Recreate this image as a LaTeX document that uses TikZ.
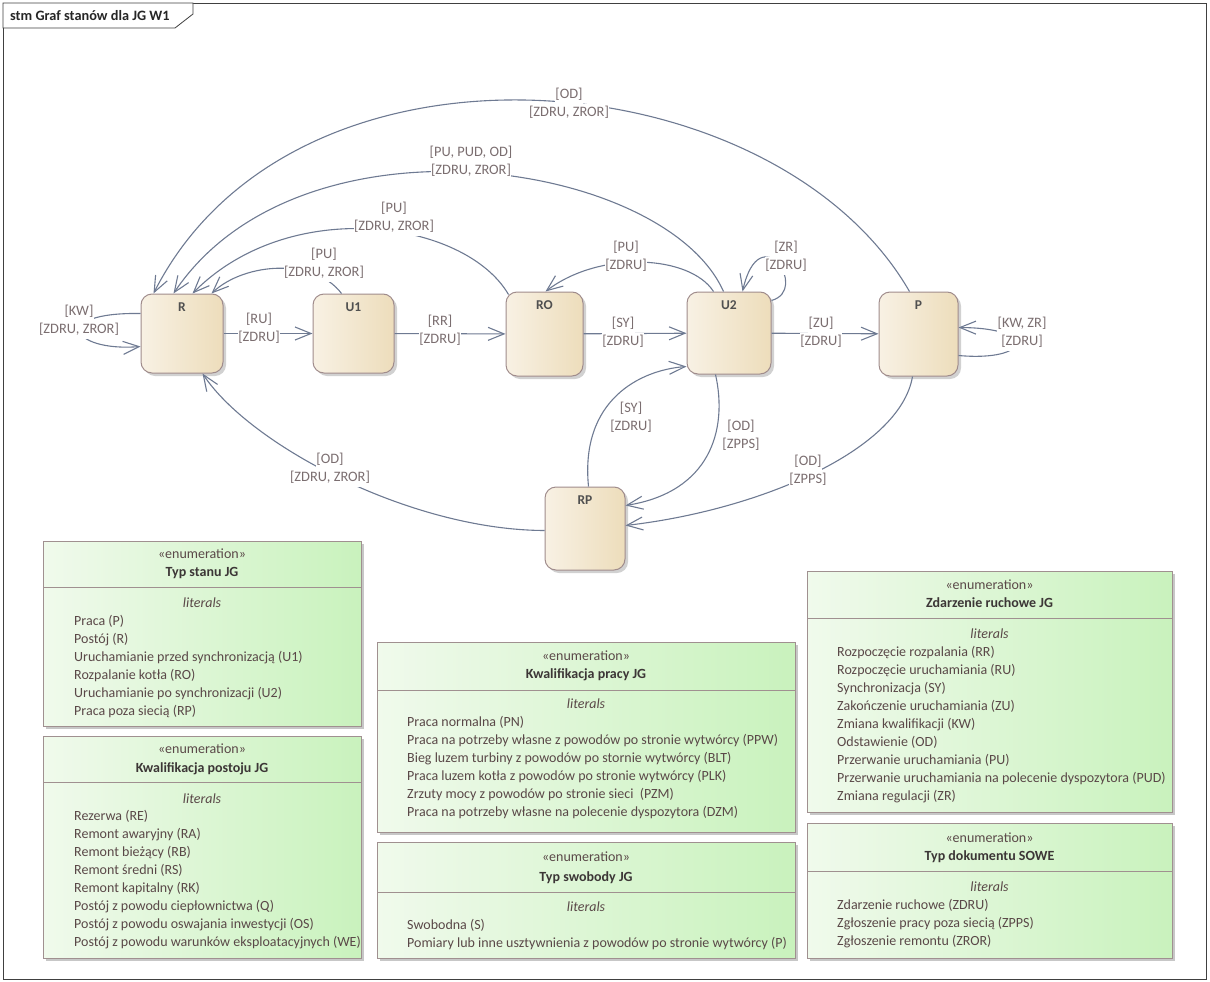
\documentclass[tikz,border=0pt]{standalone}
\usepackage{fontspec}
\setmainfont{Carlito}
\usetikzlibrary{arrows.meta,shadows,calc}
\definecolor{stateL}{HTML}{F8F1E4}
\definecolor{stateR}{HTML}{EDDDBB}
\definecolor{stateborder}{HTML}{A08C8C}
\definecolor{enumL}{HTML}{F0FAEC}
\definecolor{enumR}{HTML}{C9F2BD}
\definecolor{enumborder}{HTML}{A09090}
\definecolor{conncol}{HTML}{6E7A92}
\definecolor{lblcol}{HTML}{7B6E70}
\definecolor{itemcol}{HTML}{5A4848}
\definecolor{titlecol}{HTML}{3C3636}
\definecolor{statetext}{HTML}{505050}
\newcommand\lbfont{\fontsize{14.4}{18}\selectfont}
\newcommand\txfont{\fontsize{14}{16}\selectfont}
\newcommand\lb[1]{{\setlength\fboxsep{0.5pt}\colorbox{white}{\rule[-5pt]{0pt}{17pt}#1}}}
\tikzset{
  statebox/.style={draw=stateborder, line width=1pt, rounded corners=11pt,
    left color=stateL, right color=stateR, inner sep=0,
    drop shadow={shadow xshift=3pt, shadow yshift=-3pt, fill=black, opacity=0.18}},
  statename/.style={font=\bfseries\fontsize{13.5}{15}\selectfont, text=statetext, inner sep=0, anchor=north},
  conn/.style={draw=conncol, line width=1.1pt, -{Straight Barb[length=16pt,width=13pt,line width=1.1pt]}},
  lbl/.style={font=\lbfont, text=lblcol, align=center, inner sep=0},
  enumbox/.style={draw=enumborder, line width=1pt, left color=enumL, right color=enumR,
    drop shadow={shadow xshift=3pt, shadow yshift=-3pt, fill=black, opacity=0.22}},
  enumline/.style={draw=enumborder, line width=1pt},
  stereo/.style={font=\txfont, text=itemcol, anchor=base, inner sep=0},
  etitle/.style={font=\bfseries\txfont, text=titlecol, anchor=base, inner sep=0},
  elit/.style={font=\itshape\txfont, text=itemcol, anchor=base, inner sep=0},
  eitem/.style={font=\txfont, text=itemcol, anchor=base west, inner sep=0},
  frameline/.style={draw=black!75, line width=0.8pt}
}
\begin{document}
\begin{tikzpicture}[x=1pt,y=-1pt]
\useasboundingbox (0,0) rectangle (1210,982);
% frame
\draw[frameline] (3,3) rectangle (1206,979);
\draw[frameline, fill=white] (3,3) -- (193,3) -- (193,14) -- (175,28) -- (3,28) -- cycle;
\node[anchor=base west, font=\bfseries\fontsize{14.3}{16}\selectfont, text=black!85, inner sep=0] (ftitle) at (10,21) {stm Graf stanów dla JG W1};

% states
\node[statebox, minimum width=82pt, minimum height=79pt] (R) at (182,333.5) {};
\node[statebox, minimum width=81pt, minimum height=79pt] (U1) at (353.5,333.5) {};
\node[statebox, minimum width=77pt, minimum height=84pt] (RO) at (544.5,334) {};
\node[statebox, minimum width=84pt, minimum height=82pt] (U2) at (729,333) {};
\node[statebox, minimum width=79pt, minimum height=84pt] (P) at (918.5,334) {};
\node[statebox, minimum width=80pt, minimum height=83pt] (RP) at (585,528.5) {};
\node[statename] (Rn) at ($(R.north)+(0,9)$) {R};
\node[statename] (U1n) at ($(U1.north)+(0,9)$) {U1};
\node[statename] (ROn) at ($(RO.north)+(0,9)$) {RO};
\node[statename] (U2n) at ($(U2.north)+(0,9)$) {U2};
\node[statename] (Pn) at ($(P.north)+(0,9)$) {P};
\node[statename] (RPn) at ($(RP.north)+(0,9)$) {RP};

% connectors
\draw[conn] (R) -- (U1);
\draw[conn] (U1) -- (RO);
\draw[conn] (RO) -- (U2);
\draw[conn] (U2) -- (P);
% self loops
\draw[conn] ($(R.north west)+(0,20)$) .. controls (50,312) and (70,352) .. ($(R.north west)+(0,53)$);
\draw[conn] ($(P.north east)+(0,64)$) .. controls (1030,362) and (1040,328) .. ($(P.north east)+(0,36)$);
\draw[conn] ($(U2.north east)+(0,9)$) .. controls (810,290) and (760,215) .. ($(U2.north west)+(56,0)$);
% back to RO
\draw[conn] ($(U2.north west)+(27,0)$) .. controls (690,255) and (600,250) .. ($(RO.north west)+(40,0)$);
% back to R
\draw[conn] ($(U1.north west)+(29,0)$) .. controls (315,258) and (245,262) .. ($(R.north west)+(71,0)$);
\draw[conn] ($(RO.north west)+(3,3)$) .. controls (465,220) and (290,195) .. ($(R.north west)+(52,0)$);
\draw[conn] ($(U2.north west)+(37,0)$) .. controls (665,160) and (300,105) .. ($(R.north west)+(33,0)$);
\draw[conn] ($(P.north west)+(31,0)$) .. controls (775,58) and (295,15) .. ($(R.north west)+(13,0)$);
% RP related
\draw[conn] ($(RP.west)+(0,2)$) .. controls (410,530) and (250,445) .. ($(R.south west)+(62,0)$);
\draw[conn] ($(RP.north west)+(44,0)$) .. controls (580,400) and (640,370) .. ($(U2.south west)+(0,-8)$);
\draw[conn] ($(U2.south west)+(29,0)$) .. controls (728,430) and (710,492) .. ($(RP.north east)+(0,19)$);
\draw[conn] ($(P.south west)+(34,0)$) .. controls (900,450) and (760,510) .. ($(RP.north east)+(0,39)$);

% labels
\node[lbl] (lRU) at (259,329) {\lb{[RU]}\\\lb{[ZDRU]}};
\node[lbl] (lRR) at (440,331) {\lb{[RR]}\\\lb{[ZDRU]}};
\node[lbl] (lSY) at (623,333) {\lb{[SY]}\\\lb{[ZDRU]}};
\node[lbl] (lZU) at (821,333) {\lb{[ZU]}\\\lb{[ZDRU]}};
\node[lbl] (lKW) at (79,321) {\lb{[KW]}\\\lb{[ZDRU, ZROR]}};
\node[lbl] (lKWZR) at (1022,333) {\lb{[KW, ZR]}\\\lb{[ZDRU]}};
\node[lbl] (lZR) at (786,257) {\lb{[ZR]}\\\lb{[ZDRU]}};
\node[lbl] (lPU1) at (626,257) {\lb{[PU]}\\\lb{[ZDRU]}};
\node[lbl] (lPU2) at (324,264) {\lb{[PU]}\\\lb{[ZDRU, ZROR]}};
\node[lbl] (lPU3) at (394,218) {\lb{[PU]}\\\lb{[ZDRU, ZROR]}};
\node[lbl] (lPU4) at (471,162) {\lb{[PU, PUD, OD]}\\\lb{[ZDRU, ZROR]}};
\node[lbl] (lOD1) at (569,104) {\lb{[OD]}\\\lb{[ZDRU, ZROR]}};
\node[lbl] (lSY2) at (631,418) {\lb{[SY]}\\\lb{[ZDRU]}};
\node[lbl] (lOD2) at (741,436) {\lb{[OD]}\\\lb{[ZPPS]}};
\node[lbl] (lOD3) at (808,471) {\lb{[OD]}\\\lb{[ZPPS]}};
\node[lbl] (lOD4) at (330,469) {\lb{[OD]}\\\lb{[ZDRU, ZROR]}};

% ---------- enumerations ----------
% 1 Typ stanu JG
\path[enumbox] (43,541) rectangle (361,726);
\draw[enumline] (43,587) -- (361,587);
\node[stereo] (e1s) at (202,558) {«enumeration»};
\node[etitle] (e1t) at (202,576) {Typ stanu JG};
\node[elit] (e1l) at (202,607) {literals};
\foreach \t [count=\i] in {{Praca (P)},{Postój (R)},{Uruchamianie przed synchronizacją (U1)},{Rozpalanie kotła (RO)},{Uruchamianie po synchronizacji (U2)},{Praca poza siecią (RP)}}
  \node[eitem] (e1i\i) at (74,{625+18*(\i-1)}) {\t};

% 2 Kwalifikacja postoju JG
\path[enumbox] (43,736) rectangle (361,958);
\draw[enumline] (43,782) -- (361,782);
\node[stereo] (e2s) at (202,753) {«enumeration»};
\node[etitle] (e2t) at (202,772) {Kwalifikacja postoju JG};
\node[elit] (e2l) at (202,803) {literals};
\foreach \t [count=\i] in {{Rezerwa (RE)},{Remont awaryjny (RA)},{Remont bieżący (RB)},{Remont średni (RS)},{Remont kapitalny (RK)},{Postój z powodu ciepłownictwa (Q)},{Postój z powodu oswajania inwestycji (OS)},{Postój z powodu warunków eksploatacyjnych (WE)}}
  \node[eitem] (e2i\i) at (74,{820+18*(\i-1)}) {\t};

% 3 Kwalifikacja pracy JG
\path[enumbox] (377,642) rectangle (795,832);
\draw[enumline] (377,690) -- (795,690);
\node[stereo] (e3s) at (586,660) {«enumeration»};
\node[etitle] (e3t) at (586,678) {Kwalifikacja pracy JG};
\node[elit] (e3l) at (586,708) {literals};
\foreach \t [count=\i] in {{Praca normalna (PN)},{Praca na potrzeby własne z powodów po stronie wytwórcy (PPW)},{Bieg luzem turbiny z powodów po stornie wytwórcy (BLT)},{Praca luzem kotła z powodów po stronie wytwórcy (PLK)},{Zrzuty mocy z powodów po stronie sieci~ (PZM)},{Praca na potrzeby własne na polecenie dyspozytora (DZM)}}
  \node[eitem] (e3i\i) at (407,{726+18*(\i-1)}) {\t};

% 4 Typ swobody JG
\path[enumbox] (377,842) rectangle (795,958);
\draw[enumline] (377,892) -- (795,892);
\node[stereo] (e4s) at (586,861) {«enumeration»};
\node[etitle] (e4t) at (586,881) {Typ swobody JG};
\node[elit] (e4l) at (586,911) {literals};
\foreach \t [count=\i] in {{Swobodna (S)},{Pomiary lub inne usztywnienia z powodów po stronie wytwórcy (P)}}
  \node[eitem] (e4i\i) at (407,{929+18*(\i-1)}) {\t};

% 5 Zdarzenie ruchowe JG
\path[enumbox] (807,571) rectangle (1172,812);
\draw[enumline] (807,618) -- (1172,618);
\node[stereo] (e5s) at (989.5,589) {«enumeration»};
\node[etitle] (e5t) at (989.5,607) {Zdarzenie ruchowe JG};
\node[elit] (e5l) at (989.5,638) {literals};
\foreach \t [count=\i] in {{Rozpoczęcie rozpalania (RR)},{Rozpoczęcie uruchamiania (RU)},{Synchronizacja (SY)},{Zakończenie uruchamiania (ZU)},{Zmiana kwalifikacji (KW)},{Odstawienie (OD)},{Przerwanie uruchamiania (PU)},{Przerwanie uruchamiania na polecenie dyspozytora (PUD)},{Zmiana regulacji (ZR)}}
  \node[eitem] (e5i\i) at (837,{656+18*(\i-1)}) {\t};

% 6 Typ dokumentu SOWE
\path[enumbox] (807,823) rectangle (1172,958);
\draw[enumline] (807,871) -- (1172,871);
\node[stereo] (e6s) at (989.5,842) {«enumeration»};
\node[etitle] (e6t) at (989.5,860) {Typ dokumentu SOWE};
\node[elit] (e6l) at (989.5,891) {literals};
\foreach \t [count=\i] in {{Zdarzenie ruchowe (ZDRU)},{Zgłoszenie pracy poza siecią (ZPPS)},{Zgłoszenie remontu (ZROR)}}
  \node[eitem] (e6i\i) at (837,{909+18*(\i-1)}) {\t};
\end{tikzpicture}
\end{document}
